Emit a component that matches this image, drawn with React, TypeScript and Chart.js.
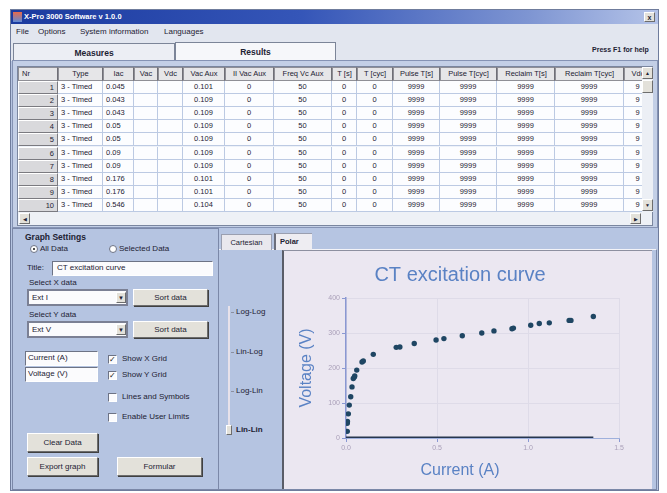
import React, { useEffect, useRef } from "react";
import { Chart, registerables } from "chart.js";

Chart.register(...registerables);

// ---------- chart data ----------
const chartTitle = "CT excitation curve";
const xAxisTitle = "Current (A)";
const yAxisTitle = "Voltage (V)";
const currentA = [
  0.007, 0.007, 0.008, 0.013, 0.018, 0.026, 0.033, 0.04, 0.046, 0.048, 0.059,
  0.088, 0.095, 0.15, 0.276, 0.296, 0.375, 0.495, 0.538, 0.639, 0.746, 0.813,
  0.912, 0.92, 1.015, 1.062, 1.117, 1.226, 1.236, 1.359,
];
const voltageV = [
  19, 42, 47, 69, 94, 118, 146, 170, 174, 177, 194, 217, 220, 239, 259, 260,
  270, 280, 284, 292, 300, 306, 312, 314, 322, 327, 329, 336, 336, 347,
];
const xTickValues = [0, 0.5, 1.0, 1.5];
const yTickValues = [0, 100, 200, 300, 400];
const baselineCurrent = [0, Math.max(...currentA)];
const baselineVoltage = [0, 0];

// ---------- table data ----------
const tableHeaders = [
  "Nr", "Type", "Iac", "Vac", "Vdc", "Vac Aux", "II Vac Aux", "Freq Vc Aux",
  "T [s]", "T [cyc]", "Pulse T[s]", "Pulse T[cyc]", "Reclaim T[s]", "Reclaim T[cyc]", "Vdc",
];
const rowNr = [1, 2, 3, 4, 5, 6, 7, 8, 9, 10];
const rowType = Array(10).fill("3 - Timed");
const rowIac = ["0.045", "0.043", "0.043", "0.05", "0.05", "0.09", "0.09", "0.176", "0.176", "0.546"];
const rowVacAux = ["0.101", "0.109", "0.109", "0.109", "0.109", "0.109", "0.109", "0.101", "0.101", "0.104"];
const menuItems = ["File", "Options", "System information", "Languages"];
const scaleModes = ["Log-Log", "Lin-Log", "Log-Lin", "Lin-Lin"];

const colEdges = [18, 58, 103, 134, 158, 183, 225, 274, 332, 357, 393, 440, 497, 555, 624, 652];
const UI_FONT = "'Liberation Sans', Arial, sans-serif";
const CH_FONT = "'Liberation Sans', Arial, sans-serif";
const TXT = "#1d2233";

type CSS = React.CSSProperties;
const A = (x: number, y: number, w: number, h: number, s: CSS = {}): CSS => ({
  position: "absolute", left: x, top: y, width: w, height: h, boxSizing: "border-box", ...s,
});

function T(props: { x: number; y: number; children: React.ReactNode; s?: CSS }) {
  return (
    <div style={{ position: "absolute", left: props.x, top: props.y - 5, lineHeight: "10px", whiteSpace: "nowrap", fontSize: 8, color: TXT, ...props.s }}>
      {props.children}
    </div>
  );
}

const btn3d: CSS = {
  background: "#e3e1da",
  borderStyle: "solid",
  borderWidth: 1,
  borderColor: "#ffffff #6d6d6d #6d6d6d #ffffff",
  boxShadow: "1px 1px 0 #404040",
  display: "flex", alignItems: "center", justifyContent: "center",
  fontSize: 8, color: TXT,
};
const sunken: CSS = {
  background: "#fbfbfd",
  borderStyle: "solid", borderWidth: 1,
  borderColor: "#6d7385 #ffffff #ffffff #6d7385",
};

function Button(p: { x: number; y: number; w: number; h: number; label: string }) {
  return <div style={A(p.x, p.y, p.w, p.h, btn3d)}>{p.label}</div>;
}
function Check(p: { x: number; y: number; checked: boolean; label: string }) {
  return (
    <>
      <div style={A(p.x, p.y - 4, 9, 9, { ...sunken, fontSize: 8, lineHeight: "7px", textAlign: "center", color: "#1a1a1a" })}>
        {p.checked ? "✓" : ""}
      </div>
      <T x={p.x + 14} y={p.y}>{p.label}</T>
    </>
  );
}
function Radio(p: { x: number; y: number; on: boolean; label: string }) {
  return (
    <>
      <div style={A(p.x, p.y - 4, 8, 8, { background: "#fff", border: "1px solid #6d7385", borderRadius: 4 })}>
        {p.on && <div style={A(2, 2, 2, 2, { background: "#111", borderRadius: 1 })} />}
      </div>
      <T x={p.x + 10} y={p.y}>{p.label}</T>
    </>
  );
}
function Combo(p: { x: number; y: number; w: number; h: number; text: string }) {
  return (
    <div style={A(p.x, p.y, p.w, p.h, { ...sunken, border: "2px solid #7b8094" })}>
      <T x={3} y={p.h / 2 - 2}>{p.text}</T>
      <div style={A(p.w - 14, 1, 10, p.h - 6, { ...btn3d, boxShadow: "none", fontSize: 6 })}>▼</div>
    </div>
  );
}

function CurveChart() {
  const ref = useRef<HTMLCanvasElement | null>(null);
  useEffect(() => {
    if (!ref.current) return;
    const axisBlue = "#8a98d2";
    const tickColor = "#a99fb8";
    const titleBlue = "#5a82c4";
    const points = currentA.map((c, i) => ({ x: c, y: voltageV[i] }));
    const baseline = baselineCurrent.map((c, i) => ({ x: c, y: baselineVoltage[i] }));
    const chart = new Chart(ref.current, {
      type: "scatter",
      data: {
        datasets: [
          {
            type: "line",
            data: baseline,
            borderColor: "#26364f",
            borderWidth: 3,
            pointRadius: 0,
            order: 2,
          } as any,
          {
            data: points,
            backgroundColor: "#1f4663",
            borderColor: "#1f4663",
            pointRadius: 2.7,
            borderWidth: 0,
            order: 1,
          },
        ],
      },
      options: {
        responsive: false,
        animation: false,
        events: [],
        layout: { padding: { left: 0, right: 13, top: 0, bottom: 0 } },
        plugins: {
          legend: { display: false },
          tooltip: { enabled: false },
          title: {
            display: true,
            text: chartTitle,
            color: titleBlue,
            font: { family: CH_FONT, size: 20, weight: "normal" },
            padding: { top: 11, bottom: 11 },
          },
          subtitle: {
            display: true,
            position: "bottom",
            text: xAxisTitle,
            color: titleBlue,
            font: { family: CH_FONT, size: 16, weight: "normal" },
            padding: { top: 2, bottom: 7 },
          },
        },
        scales: {
          x: {
            type: "linear",
            min: 0,
            max: 1.5,
            afterBuildTicks: (s: any) => { s.ticks = xTickValues.map((v) => ({ value: v })); },
            afterFit: (s: any) => { s.height = 20.8; },
            ticks: {
              callback: (v: any) => Number(v).toFixed(1),
              color: tickColor,
              font: { family: CH_FONT, size: 7 },
              padding: 2,
              maxRotation: 0,
            },
            grid: { color: "#dedbe8", tickColor: axisBlue, tickLength: 4 },
            border: { color: "#9fb0dc", width: 1 },
          },
          y: {
            type: "linear",
            min: 0,
            max: 400,
            afterBuildTicks: (s: any) => { s.ticks = yTickValues.map((v) => ({ value: v })); },
            afterFit: (s: any) => { s.width = 63; },
            ticks: {
              color: tickColor,
              font: { family: CH_FONT, size: 7 },
              padding: 2,
            },
            grid: { color: "#dedbe8", tickColor: axisBlue, tickLength: 4 },
            border: { color: axisBlue, width: 1.5 },
            title: {
              display: true,
              text: yAxisTitle,
              color: titleBlue,
              font: { family: CH_FONT, size: 16 },
              padding: { top: 14, bottom: 0 },
            },
          },
          yRightSpace: {
            type: "linear",
            position: "right",
            display: true,
            min: 0,
            max: 400,
            afterFit: (s: any) => { s.width = 18; },
            ticks: { display: false },
            grid: { display: false, drawOnChartArea: false },
            border: { display: false },
          },
        },
      },
    });
    return () => chart.destroy();
  }, []);
  return <canvas ref={ref} width={367} height={235} style={{ position: "absolute", left: 0, top: 0, width: 367, height: 235 }} />;
}

function DataTable() {
  const cells: React.ReactNode[] = [];
  tableHeaders.forEach((h, i) => {
    const x = colEdges[i];
    const w = colEdges[i + 1] - x;
    cells.push(
      <div key={"h" + i} style={A(x, 67, w, 14, { background: "#e6e6e8", border: "1px solid #8f8f96", borderRight: "1px solid #6f6f76", fontSize: 7.5, color: TXT, lineHeight: "12px", textAlign: i === 0 ? "left" : "center", paddingLeft: i === 0 ? 3 : 0, overflow: "hidden", whiteSpace: "nowrap" })}>
        {h}
      </div>
    );
  });
  rowNr.forEach((nr, r) => {
    const y = 81 + r * 13.1;
    const vals = [String(nr), rowType[r], rowIac[r], "", "", rowVacAux[r], "0", "50", "0", "0", "9999", "9999", "9999", "9999", "9"];
    vals.forEach((v, i) => {
      const x = colEdges[i];
      const w = colEdges[i + 1] - x;
      const isNr = i === 0;
      const align = isNr ? "right" : i === 1 || i === 2 ? "left" : "center";
      cells.push(
        <div key={r + "_" + i} style={A(x, y, w, 13.1, {
          background: isNr ? "#d9d9dc" : "#fcfdff",
          borderStyle: "solid",
          borderWidth: isNr ? 1 : "0 1px 1px 0",
          borderColor: isNr ? "#ffffff #7a7a80 #7a7a80 #ffffff" : "#bccae3",
          fontSize: 7.5, color: TXT, lineHeight: "12px",
          textAlign: align as any, paddingRight: isNr ? 3 : 0, paddingLeft: i === 1 || i === 2 ? 3 : 0,
          overflow: "hidden", whiteSpace: "nowrap",
        })}>{v}</div>
      );
    });
  });
  return (
    <>
      <div style={A(12, 60, 646, 168, { background: "#c3cfe6", border: "1px solid #8593b4" })} />
      <div style={A(17, 66, 636, 160, { background: "#eef2f9", border: "1px solid #7a869f" })} />
      {cells}
      {/* vertical scrollbar */}
      <div style={A(642, 67, 11, 145, { background: "#eceff5" })} />
      <div style={A(642, 67, 11, 12, { ...btn3d, boxShadow: "none", fontSize: 5 })}>▲</div>
      <div style={A(642, 80, 11, 13, { ...btn3d, boxShadow: "none" })} />
      <div style={A(642, 199, 11, 12, { ...btn3d, boxShadow: "none", fontSize: 5 })}>▼</div>
      {/* horizontal scrollbar */}
      <div style={A(18, 212, 634, 13, { background: "#eef1f6" })} />
      <div style={A(19, 213, 11, 11, { ...btn3d, boxShadow: "none", fontSize: 5 })}>◀</div>
      <div style={A(630, 213, 11, 11, { ...btn3d, boxShadow: "none", fontSize: 5 })}>▶</div>
    </>
  );
}

export default function App() {
  return (
    <div style={{ position: "absolute", left: 0, top: 0, width: 667, height: 493, background: "#ffffff", fontFamily: UI_FONT, overflow: "hidden" }}>
      {/* window */}
      <div style={A(10, 9, 649, 482, { background: "#b6c5e2", border: "1px solid #6f7c9c" })} />
      {/* title bar */}
      <div style={A(11, 10, 647, 14, { background: "linear-gradient(to right, #1b3a9f 0%, #3556b8 45%, #7e95d2 80%, #b4c3e8 100%)" })} />
      <div style={A(13, 12, 9, 10, { background: "linear-gradient(#e86a4a, #5d8ad8)" })} />
      <T x={24} y={17} s={{ color: "#ffffff", fontWeight: "bold", fontSize: 7.5 }}>X-Pro 3000 Software v 1.0.0</T>
      <div style={A(644, 12, 11, 10, { ...btn3d, boxShadow: "none", fontSize: 7, fontWeight: "bold" })}>x</div>
      {/* menu */}
      <div style={A(11, 24, 647, 16, { background: "#e2e6ef" })} />
      {menuItems.map((m, i) => (
        <T key={m} x={[16, 38, 80, 164][i]} y={32}>{m}</T>
      ))}
      {/* tab strip */}
      <div style={A(11, 40, 647, 21, { background: "#e2e6ef" })} />
      <div style={A(13, 43, 162, 18, { background: "#eceef4", border: "1px solid #7c8598", borderBottom: "none", display: "flex", alignItems: "center", justifyContent: "center", fontSize: 8.5, fontWeight: "bold", color: TXT })}>Measures</div>
      <div style={A(175, 42, 161, 19, { background: "#f6f7fa", border: "1px solid #7c8598", borderBottom: "none", display: "flex", alignItems: "center", justifyContent: "center", fontSize: 8.5, fontWeight: "bold", color: TXT })}>Results</div>
      <T x={592} y={50} s={{ fontSize: 7, fontWeight: "bold" }}>Press F1 for help</T>

      <DataTable />

      {/* lower left panel */}
      <div style={A(12, 228, 207, 262, { background: "#b5c4e1", border: "1px solid #7b88a8" })} />
      <T x={25} y={237} s={{ fontWeight: "bold", fontSize: 8.5 }}>Graph Settings</T>
      <Radio x={30} y={249} on={true} label="All Data" />
      <Radio x={109} y={249} on={false} label="Selected Data" />
      <T x={27} y={268}>Title:</T>
      <div style={A(52, 261, 161, 15, sunken)}>
        <T x={4} y={6}>{chartTitle}</T>
      </div>
      <T x={29} y={283}>Select X data</T>
      <Combo x={27} y={289} w={101} h={17} text="Ext I" />
      <Button x={133} y={289} w={75} h={17} label="Sort data" />
      <T x={29} y={315}>Select Y data</T>
      <Combo x={27} y={321} w={101} h={17} text="Ext V" />
      <Button x={133} y={321} w={75} h={17} label="Sort data" />
      <div style={A(25, 351, 73, 15, sunken)}><T x={2} y={6}>{xAxisTitle}</T></div>
      <div style={A(25, 367, 73, 15, sunken)}><T x={2} y={6}>{yAxisTitle}</T></div>
      <Check x={108} y={359} checked={true} label="Show X Grid" />
      <Check x={108} y={375} checked={true} label="Show Y Grid" />
      <Check x={108} y={397} checked={false} label="Lines and Symbols" />
      <Check x={108} y={417} checked={false} label="Enable User Limits" />
      <Button x={27} y={433} w={71} h={19} label="Clear Data" />
      <Button x={27} y={457} w={71} h={19} label="Export graph" />
      <Button x={117} y={457} w={85} h={19} label="Formular" />

      {/* right panel */}
      <div style={A(219, 249, 438, 241, { background: "#b5c4e1", borderTop: "1px solid #f4f4f8", borderRight: "1px solid #7b88a8", borderBottom: "1px solid #7b88a8" })} />
      <div style={A(221, 234, 51, 16, { background: "#e9e8ee", border: "1px solid #9a9fb0", borderBottom: "none", display: "flex", alignItems: "center", justifyContent: "center", fontSize: 7.5, color: TXT })}>Cartesian</div>
      <div style={A(274, 233, 38, 17, { background: "#eeedf2", borderLeft: "2px solid #6c6f7c", borderTop: "1px solid #9a9fb0", paddingLeft: 4, fontSize: 7.5, fontWeight: "bold", color: TXT, lineHeight: "15px" })}>Polar</div>
      {/* scale slider */}
      <div style={A(228, 306, 2, 129, { background: "#e8e2ea" })} />
      {scaleModes.map((m, i) => (
        <React.Fragment key={m}>
          {i < 3 && <div style={A(231, [312, 352, 391][i], 3, 1, { background: "#8a8fa0" })} />}
          <T x={236} y={[312, 352, 391, 430][i]} s={i === 3 ? { fontWeight: "bold" } : {}}>{m}</T>
        </React.Fragment>
      ))}
      <div style={A(226, 425, 6, 10, { ...btn3d, boxShadow: "none" })} />

      {/* chart panel */}
      <div style={A(282, 250, 370, 239, { background: "#ebe7f1", borderLeft: "2px solid #5a5d68", borderTop: "1px solid #8d90a0" })} />
      <div style={{ position: "absolute", left: 283, top: 252, width: 367, height: 235 }}>
        <CurveChart />
      </div>
    </div>
  );
}
